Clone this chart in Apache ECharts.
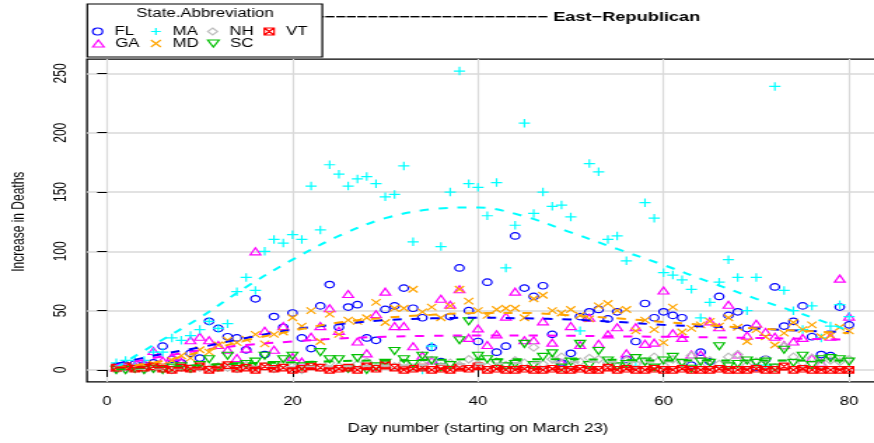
<!DOCTYPE html>
<html>
<head>
<meta charset="utf-8">
<script src="https://cdn.jsdelivr.net/npm/echarts@6/dist/echarts.min.js"></script>
<style>
  html, body { margin: 0; padding: 0; background: #fff; overflow: hidden; }
  /* the reference raster is stretched horizontally, so draw narrower and stretch */
  #chart { width: 624px; height: 443px; transform: scaleX(1.40064); transform-origin: 0 0; }
</style>
</head>
<body>
<div id="chart"></div>
<script>
// ---- data ----
const days = [1,2,3,4,5,6,7,8,9,10,11,12,13,14,15,16,17,18,19,20,
  21,22,23,24,25,26,27,28,29,30,31,32,33,34,35,36,37,38,39,40,
  41,42,43,44,45,46,47,48,49,50,51,52,53,54,55,56,57,58,59,60,
  61,62,63,64,65,66,67,68,69,70,71,72,73,74,75,76,77,78,79,80];

const flDeaths = [3,4,5,4,6,20,9,6,14,10,41,35,28,27,17,60,13,45,36,48,
  27,18,54,72,36,53,55,27,25,51,54,69,52,44,19,7,45,86,50,24,
  74,15,20,113,69,62,71,30,6,14,45,49,51,43,49,9,24,56,44,49,
  46,44,4,15,7,62,46,49,35,2,9,70,37,41,54,28,13,12,53,38];
const gaDeaths = [2,3,4,5,16,8,11,7,25,28,25,21,17,10,18,100,33,17,37,11,
  7,28,37,52,33,64,24,14,47,66,37,37,20,12,8,60,55,68,27,35,
  21,30,45,66,25,25,41,23,6,37,21,44,22,30,36,14,36,22,23,67,
  31,27,13,13,41,36,55,13,29,39,32,28,21,24,27,10,6,28,77,45];
const maDeaths = [6,8,8,8,15,15,27,25,29,34,41,35,39,66,78,67,100,110,107,114,
  110,155,118,173,165,155,161,163,157,146,148,172,108,0,20,104,150,252,157,154,
  130,158,86,122,208,132,150,138,139,129,33,174,167,110,113,92,3,141,128,82,
  80,76,68,44,57,74,93,78,50,78,4,239,67,50,34,54,27,37,55,45];
const mdDeaths = [1,2,2,3,5,4,8,12,10,17,15,21,25,23,26,30,22,30,32,44,
  37,50,24,47,30,42,41,44,57,40,52,52,68,49,53,44,54,68,58,50,
  46,51,52,52,44,60,63,50,48,51,46,43,54,56,50,51,33,42,34,23,
  53,32,35,38,41,37,44,36,24,34,28,21,31,40,34,38,28,29,36,33];
const nhDeaths = [0,0,1,0,1,1,0,2,1,2,1,3,2,1,4,2,3,1,5,3,
  0,4,2,6,3,1,5,7,2,4,3,6,2,5,8,3,6,4,9,5,
  3,7,4,8,6,19,5,9,11,4,7,10,9,6,3,8,5,7,11,4,
  9,6,12,3,8,5,11,13,4,7,9,2,20,11,6,10,4,8,7,9];
const scDeaths = [0,0,1,0,1,0,2,3,1,4,9,2,12,3,5,7,12,4,9,12,
  3,4,15,9,9,1,10,0,3,6,16,9,5,12,8,2,4,25,41,12,
  9,6,3,5,22,4,11,14,2,7,22,4,16,8,3,5,10,7,2,8,
  11,6,1,7,6,20,3,5,8,6,7,2,17,6,12,4,9,10,9,7];
const vtDeaths = [2,3,1,2,3,1,0,2,1,3,0,2,4,1,2,0,3,1,2,0,
  1,3,2,0,1,2,0,3,1,5,2,0,1,2,0,1,0,2,1,3,
  0,1,0,0,1,0,0,1,0,0,1,0,0,2,0,1,0,0,1,0,
  0,1,0,0,0,1,0,0,0,1,0,0,3,0,1,0,0,0,0,0];

// dashed smooth curves, read at these days
const fitDays = [1,5,10,15,20,25,30,35,40,45,50,55,60,65,70,75,80];
const flFit = [5,12,19,27,34,38.5,42,43.5,44,43.5,42.5,40.5,38,36.5,35,33,32];
const gaFit = [4,10,16.5,21,24,26.5,28,28.8,29,29,28.8,28.3,28,27.5,27,26.3,25.5];
const maFit = [2,21,44,70,93,113,128,135.5,137,129.5,116,102,88.5,74,60,47,33];
const mdFit = [2,6,15,25,33,40,44,46.5,48,48,46,43.5,40.5,37.5,35,33,31];
const nhFit = [0.5,1,1.5,2,2.5,3,3.5,4.5,5,6,6.5,7,7,7.5,7.5,8,8];
const scFit = [0.5,2,4,5.5,6.5,7.5,8,8.5,9,9,9,8.5,8,8,8,8,8];
const vtFit = [2,2,1.8,1.7,1.5,1.3,1.2,1,0.8,0.6,0.5,0.4,0.4,0.4,0.4,0.3,0.3];

const states = ['FL', 'GA', 'MA', 'MD', 'NH', 'SC', 'VT'];
const xTicks = [0, 20, 40, 60, 80];
const yTicks = [0, 50, 100, 150, 200, 250];

// ---- styling ----
const FONT = 'Liberation Sans';
const values = { FL: flDeaths, GA: gaDeaths, MA: maDeaths, MD: mdDeaths, NH: nhDeaths, SC: scDeaths, VT: vtDeaths };
const fits = { FL: flFit, GA: gaFit, MA: maFit, MD: mdFit, NH: nhFit, SC: scFit, VT: vtFit };
const colors = { FL: '#0000FF', GA: '#FF00FF', MA: '#00FFFF', MD: '#FFA500', NH: '#BEBEBE', SC: '#00C000', VT: '#FF0000' };
const symbols = {
  FL: 'circle',
  GA: 'path://M5,0L10,8.66L0,8.66Z',
  MA: 'path://M5,0L5,10M0,5L10,5',
  MD: 'path://M0,0L10,10M10,0L0,10',
  NH: 'path://M5,0L10,5L5,10L0,5Z',
  SC: 'path://M0,0L10,0L5,8.66Z',
  VT: 'path://M0,0L10,0L10,10L0,10ZM0,0L10,10M10,0L0,10'
};
const sizes = { FL: [6.5, 6.5], GA: [7.5, 7], MA: [8, 8.5], MD: [6.5, 6.5], NH: [7, 7.5], SC: [7.5, 7], VT: [6.5, 6.5] };

// R-style axis limits: data range padded by 4%
const pad = (lo, hi) => [lo - 0.04 * (hi - lo), hi + 0.04 * (hi - lo)];
const allVals = states.flatMap(s => values[s]);
const xLim = pad(Math.min(...days), Math.max(...days));
const yLim = pad(Math.min(...allVals), Math.max(...allVals));

// plot box (in unstretched pixels)
const box = { left: 62.1, top: 59.1, width: 565, height: 322.8 };
const px = v => box.left + (v - xLim[0]) / (xLim[1] - xLim[0]) * box.width;
const py = v => box.top + (yLim[1] - v) / (yLim[1] - yLim[0]) * box.height;
const tickGrid = {
  left: px(xTicks[0]), width: px(xTicks[xTicks.length - 1]) - px(xTicks[0]),
  top: py(yTicks[yTicks.length - 1]), height: py(yTicks[0]) - py(yTicks[yTicks.length - 1])
};

const pairs = (xs, ys) => xs.map((x, i) => [x, ys[i]]);

const hollow = s => ({ color: 'rgba(0,0,0,0)', borderColor: colors[s], borderWidth: 1.2, opacity: 1 });

const pointSeries = states.map(s => ({
  name: s,
  type: 'scatter',
  xAxisIndex: 0,
  yAxisIndex: 0,
  data: pairs(days, values[s]),
  symbol: symbols[s],
  symbolSize: sizes[s],
  itemStyle: hollow(s),
  emphasis: { disabled: true },
  z: 2
}));

const fitSeries = states.map(s => ({
  name: s + ' fit',
  type: 'line',
  xAxisIndex: 0,
  yAxisIndex: 0,
  data: pairs(fitDays, fits[s]),
  smooth: 0.35,
  symbol: 'none',
  lineStyle: { color: colors[s], width: 2, type: [6.5, 7] },
  silent: true,
  z: 3
}));

// legend laid out like R's 4-column key
const keySpots = {
  FL: [72.6, 24.5], MA: [114.2, 24.5], NH: [154.7, 24.5], VT: [195.1, 24.5],
  GA: [72.6, 36.5], MD: [114.2, 36.5], SC: [154.7, 36.5]
};
const legends = states.map(s => ({
  data: [{ name: s, icon: symbols[s], itemStyle: hollow(s) }],
  left: keySpots[s][0] - 7,
  top: keySpots[s][1],
  padding: 0,
  itemGap: 0,
  itemWidth: 14,
  itemHeight: 7,
  symbolKeepAspect: true,
  textStyle: { fontFamily: FONT, fontSize: 12, color: '#000', lineHeight: 14 },
  z: 20
}));

const chart = echarts.init(document.getElementById('chart'));

chart.setOption({
  animation: false,
  backgroundColor: '#fff',
  textStyle: { fontFamily: FONT },
  title: {
    text: '\u2212'.repeat(25) + ' East\u2212Republican',
    right: 124,
    top: 11,
    padding: 0,
    textStyle: { fontFamily: FONT, fontSize: 13, fontWeight: 'bold', color: '#000' }
  },
  legend: legends,
  graphic: [
    {
      type: 'rect', z: 10, silent: true,
      shape: { x: 62.3, y: 4, width: 167.8, height: 53 },
      style: { fill: '#fff', stroke: '#000', lineWidth: 1.2 }
    },
    {
      type: 'text', z: 11, silent: true,
      x: 146.4, y: 13.5,
      style: {
        text: 'State.Abbreviation', font: '12px "Liberation Sans"', fill: '#000',
        align: 'center', verticalAlign: 'middle', textAlign: 'center', textVerticalAlign: 'middle'
      }
    }
  ],
  grid: [
    { left: box.left, top: box.top, width: box.width, height: box.height,
      show: true, borderColor: '#000', borderWidth: 1.3, backgroundColor: 'rgba(0,0,0,0)',
      outerBoundsMode: 'none' },
    { left: tickGrid.left, top: tickGrid.top, width: tickGrid.width, height: tickGrid.height,
      outerBoundsMode: 'none' }
  ],
  xAxis: [
    {
      type: 'value', gridIndex: 0, min: xLim[0], max: xLim[1], splitNumber: 5,
      axisLine: { show: false }, axisTick: { show: false }, axisLabel: { show: false },
      splitLine: { show: true, showMinLine: false, showMaxLine: false, lineStyle: { color: '#d9d9d9', width: 1.2 } }
    },
    {
      type: 'value', gridIndex: 1, min: xTicks[0], max: xTicks[xTicks.length - 1], interval: 20,
      offset: box.top + box.height - (tickGrid.top + tickGrid.height),
      axisLine: { show: false },
      axisTick: { show: true, length: 7, lineStyle: { color: '#000', width: 1 } },
      axisLabel: { fontSize: 12, color: '#000', margin: 14, fontFamily: FONT },
      splitLine: { show: false },
      name: 'Day number (starting on March 23)',
      nameLocation: 'middle', nameGap: 41,
      nameTextStyle: { fontSize: 12, color: '#000', fontFamily: FONT }
    }
  ],
  yAxis: [
    {
      type: 'value', gridIndex: 0, min: yLim[0], max: yLim[1], splitNumber: 5,
      axisLine: { show: false }, axisTick: { show: false }, axisLabel: { show: false },
      splitLine: { show: true, showMinLine: false, showMaxLine: false, lineStyle: { color: '#d9d9d9', width: 1.5 } }
    },
    {
      type: 'value', gridIndex: 1, min: yTicks[0], max: yTicks[yTicks.length - 1], interval: 50,
      offset: tickGrid.left - box.left,
      axisLine: { show: false },
      axisTick: { show: true, length: 7, lineStyle: { color: '#000', width: 1 } },
      axisLabel: { fontSize: 12, color: '#000', margin: 12, rotate: 90, fontFamily: FONT },
      splitLine: { show: false },
      name: 'Increase in Deaths',
      nameLocation: 'middle', nameGap: 42, nameRotate: 90,
      nameTextStyle: { fontSize: 12, color: '#000', fontFamily: FONT }
    }
  ],
  series: pointSeries.concat(fitSeries)
});
</script>
</body>
</html>
